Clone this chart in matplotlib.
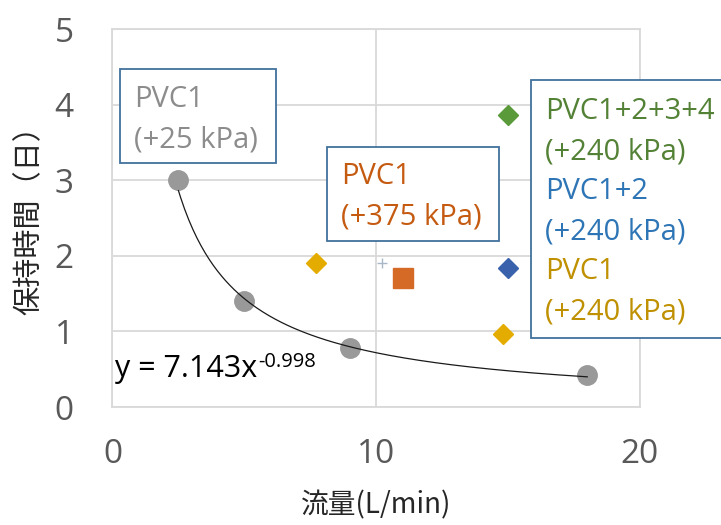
import numpy as np
import matplotlib
matplotlib.use('Agg')
import matplotlib.pyplot as plt
from matplotlib.patches import Rectangle

# data
pvc25_flow = [2.5, 5, 9, 18]
pvc25_days = [3.0, 1.4, 0.78, 0.42]
pvc240_flow = [7.7, 14.8]
pvc240_days = [1.9, 0.97]
pvc12_flow = [15]
pvc12_days = [1.84]
pvc1234_flow = [15]
pvc1234_days = [3.86]
pvc375_flow = [11]
pvc375_days = [1.71]

fit_a = 7.143
fit_b = -0.998

x_ticks = [0, 10, 20]
y_ticks = [0, 1, 2, 3, 4, 5]

W, H = 721, 525
plt.rcParams['font.family'] = ['Open Sans', 'Noto Sans CJK JP', 'DejaVu Sans']
fig = plt.figure(figsize=(W / 100, H / 100), dpi=100)
ax = fig.add_axes([112.5 / W, 1 - 407 / H, (640 - 112.5) / W, (407 - 29) / H])

grid_c = '#D9D9D9'
ax.set_xlim(0, 20)
ax.set_ylim(0, 5)
ax.set_xticks(x_ticks)
ax.set_yticks(y_ticks)
ax.grid(True, color=grid_c, lw=1.3)
ax.set_axisbelow(True)
for s in ax.spines.values():
    s.set_color(grid_c)
    s.set_linewidth(1.3)
ax.tick_params(length=0, labelsize=24, colors='#595959')
ax.tick_params(axis='x', pad=22)
ax.tick_params(axis='y', pad=28)

# trendline y = a x^b
xs = np.linspace(min(pvc25_flow), max(pvc25_flow), 200)
ax.plot(xs, fit_a * xs ** fit_b, color='#1a1a1a', lw=0.9, zorder=3)

ax.plot(pvc25_flow, pvc25_days, 'o', ms=14, color='#999999', mec='#999999', zorder=2)
ax.plot(pvc240_flow, pvc240_days, 'D', ms=10, color='#E5AC00', zorder=2)
ax.plot(pvc12_flow, pvc12_days, 'D', ms=10, color='#3A62AC', zorder=2)
ax.plot(pvc1234_flow, pvc1234_days, 'D', ms=10, color='#5A9A3A', zorder=2)
ax.plot(pvc375_flow, pvc375_days, 's', ms=14, color='#D46A26', zorder=2)
ax.plot([10.23], [1.91], '+', ms=7, color='#A9B8C8', mew=1, zorder=2)

ax.set_xlabel('流量(L/min)', family=['Noto Sans CJK JP'], fontsize=20, color='#262626', va='center')
ax.xaxis.set_label_coords(0.5, (407 - 505) / 378)
ax.set_ylabel('保持時間（日）', family=['Noto Sans CJK JP'], fontsize=21, color='#262626', va='center')
ax.yaxis.set_label_coords((30 - 112.5) / 527.5, (407 - 213) / 378)


def px(x, y):
    return x / W, 1 - y / H


def box(x0, y0, x1, y1):
    fx, fy = px(x0, y1)
    r = Rectangle((fx, fy), (x1 - x0) / W, (y1 - y0) / H, transform=fig.transFigure,
                  facecolor='white', edgecolor='#41719C', lw=1.3, zorder=5)
    fig.patches.append(r)


def line(x, y, s, c, size=21):
    fx, fy = px(x, y)
    fig.text(fx, fy, s, color=c, fontsize=size, va='baseline', ha='left', zorder=6)


box(120, 69, 276, 163)
line(134, 107, 'PVC1', '#8C8C8C')
line(134, 147, '(+25 kPa)', '#8C8C8C')

box(327, 147, 499, 241)
line(341, 184, 'PVC1', '#C55A11')
line(341, 224, '(+375 kPa)', '#C55A11')

box(531, 80, 740, 338)
line(545, 119, 'PVC1+2+3+4', '#538135')
line(545, 159, '(+240 kPa)', '#538135')
line(545, 199, 'PVC1+2', '#2E75B6')
line(545, 239, '(+240 kPa)', '#2E75B6')
line(545, 279, 'PVC1', '#BF9000')
line(545, 319, '(+240 kPa)', '#BF9000')

# trendline equation
line(115, 377, 'y = 7.143x', 'black', size=22)
line(258, 367, '-0.998', 'black', size=14.5)

fig.savefig('out.png', dpi=100)
